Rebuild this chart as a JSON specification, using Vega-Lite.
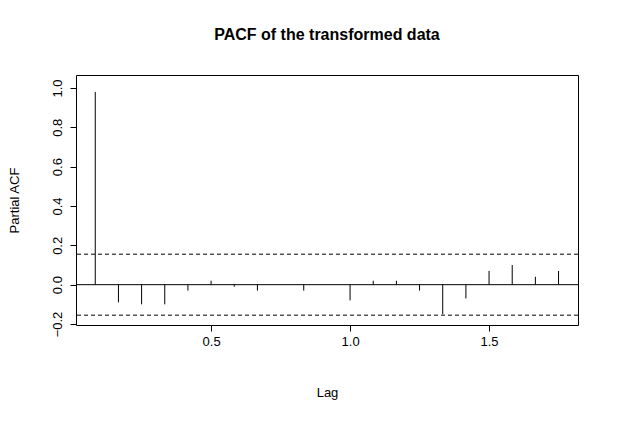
{
  "$schema": "https://vega.github.io/schema/vega-lite/v6.json",
  "width": 502,
  "height": 250,
  "autosize": "none",
  "padding": {"left": 76, "top": 75, "right": 41, "bottom": 98},
  "background": "white",
  "title": {"text": "PACF of the transformed data", "font": "Liberation Sans", "fontSize": 16, "fontWeight": "bold", "offset": 32, "color": "black"},
  "config": {
    "view": {"stroke": "black", "strokeWidth": 1},
    "axis": {"labelFont": "Liberation Sans", "titleFont": "Liberation Sans", "labelFontSize": 13, "titleFontSize": 13, "titleFontWeight": "normal", "labelColor": "black", "titleColor": "black", "tickColor": "black", "domain": false, "grid": false, "tickSize": 6}
  },
  "datasets": {
    "pacf": [
      {"lag": 0.0833, "acf": 0.98}, {"lag": 0.1667, "acf": -0.09}, {"lag": 0.25, "acf": -0.1},
      {"lag": 0.3333, "acf": -0.1}, {"lag": 0.4167, "acf": -0.03}, {"lag": 0.5, "acf": 0.02},
      {"lag": 0.5833, "acf": -0.01}, {"lag": 0.6667, "acf": -0.03}, {"lag": 0.75, "acf": 0.0},
      {"lag": 0.8333, "acf": -0.03}, {"lag": 0.9167, "acf": 0.0}, {"lag": 1.0, "acf": -0.08},
      {"lag": 1.0833, "acf": 0.02}, {"lag": 1.1667, "acf": 0.02}, {"lag": 1.25, "acf": -0.03},
      {"lag": 1.3333, "acf": -0.15}, {"lag": 1.4167, "acf": -0.07}, {"lag": 1.5, "acf": 0.07},
      {"lag": 1.5833, "acf": 0.1}, {"lag": 1.6667, "acf": 0.04}, {"lag": 1.75, "acf": 0.07}
    ],
    "bounds": [{"b": 0.155}, {"b": -0.155}]
  },
  "layer": [
    {
      "data": {"name": "pacf"},
      "mark": {"type": "rule", "color": "black", "strokeWidth": 1},
      "encoding": {
        "x": {"field": "lag", "type": "quantitative", "scale": {"domain": [0.014, 1.82], "nice": false, "zero": false}, "axis": {"values": [0.5, 1.0, 1.5], "format": ".1f", "title": "Lag", "titlePadding": 38, "labelPadding": 4}},
        "y": {"field": "acf", "type": "quantitative", "scale": {"domain": [-0.205, 1.066], "nice": false, "zero": false}, "axis": {"values": [-0.2, 0, 0.2, 0.4, 0.6, 0.8, 1.0], "format": ".1f", "title": "Partial ACF", "labelAngle": -90, "labelAlign": "center", "labelBaseline": "bottom", "labelPadding": 6, "titlePadding": 30}},
        "y2": {"datum": 0}
      }
    },
    {
      "data": {"values": [{"z": 0}]},
      "mark": {"type": "rule", "color": "black", "strokeWidth": 1},
      "encoding": {"y": {"field": "z", "type": "quantitative"}}
    },
    {
      "data": {"name": "bounds"},
      "mark": {"type": "rule", "color": "black", "strokeWidth": 1, "strokeDash": [4, 3]},
      "encoding": {"y": {"field": "b", "type": "quantitative"}}
    }
  ]
}
